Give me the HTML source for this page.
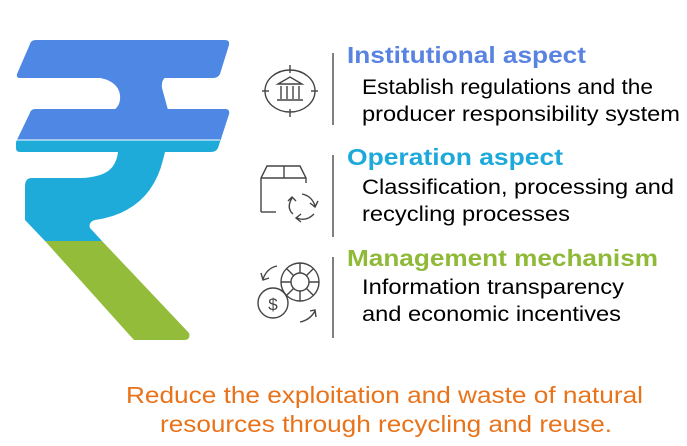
<!DOCTYPE html>
<html><head><meta charset="utf-8"><style>
html,body{margin:0;padding:0;background:#fff;}
svg{display:block;}
text{font-family:"Liberation Sans",sans-serif;}
</style></head><body>
<svg width="687" height="446" viewBox="0 0 687 446" xmlns="http://www.w3.org/2000/svg">
<defs><clipPath id="top"><rect x="0" y="0" width="300" height="140"/></clipPath></defs>
<path d="M45,241 H102 L189,333 Q191,340 184,340 H134 Z" fill="#93bc3a"/>
<path d="M118,152 Q116,170 100,175 Q90,178 80,178 H32 Q25,178 25,186 V220 L45,241 H102 L90,228 Q88,222 95,220 Q150,212 163,160 L165,152 Z" fill="#1fabd9"/>
<path d="M36,40 H225 Q230,40 229,45 L220,74 Q218,78 213,78 H20 Q16,78 17,74 L30,44 Q31,40 36,40 Z" fill="#4e88e4"/>
<path d="M95,77 Q118,80 120,95 Q121,105 114,110 H168 L162,88 Q161,80 166,77 Z" fill="#4e88e4"/>
<path d="M36,109 H225 Q230,109 229,114 L218,148 Q216,152 211,152 H20 Q16,152 16,148 V142 L30,113 Q31,109 36,109 Z" fill="#1fabd9"/>
<path clip-path="url(#top)" d="M36,109 H225 Q230,109 229,114 L218,148 Q216,152 211,152 H20 Q16,152 16,148 V142 L30,113 Q31,109 36,109 Z" fill="#4e88e4"/>
<line x1="17" y1="140" x2="220" y2="140" stroke="#fff" stroke-width="1"/>
<g stroke="#555" stroke-width="1.5">
<line x1="333" y1="53" x2="333" y2="125"/>
<line x1="333" y1="155" x2="333" y2="237"/>
<line x1="333" y1="257" x2="333" y2="338"/>
</g>
<g fill="none" stroke="#444" stroke-width="1.4">
<ellipse cx="290" cy="91" rx="25" ry="21"/>
<line x1="290" y1="65" x2="290" y2="73"/><line x1="290" y1="109" x2="290" y2="117"/>
<line x1="262" y1="91" x2="269" y2="91"/><line x1="311" y1="91" x2="318" y2="91"/>
<path d="M278,84 L290,77 L302,84 Z"/><line x1="277" y1="100" x2="303" y2="100"/>
<line x1="281" y1="86" x2="281" y2="99"/><line x1="287" y1="86" x2="287" y2="99"/><line x1="293" y1="86" x2="293" y2="99"/><line x1="299" y1="86" x2="299" y2="99"/>
<path d="M261,212 V178 L267,166 H300 L306,178 V183"/><line x1="261" y1="178" x2="306" y2="178"/><line x1="284" y1="166" x2="284" y2="178"/>
<path d="M261,212 H276"/>
<path d="M302,194 Q312,196 315,206 M310,203 L315,207 L318,201"/>
<path d="M293,214 Q286,208 292,198 M288,201 L292,197 L296,201"/>
<path d="M314,214 Q306,222 297,218 M301,214 L296,218 L301,222"/>
<circle cx="273" cy="303" r="15"/>
<text x="273" y="310" font-size="17" fill="#444" stroke="none" text-anchor="middle">$</text>
<circle cx="300" cy="282" r="19"/><circle cx="300" cy="282" r="9"/>
<path d="M300,263 V273 M300,291 V301 M281,282 H291 M309,282 H319 M287,269 L294,276 M306,288 L313,295 M313,269 L306,276 M294,288 L287,295"/>
<path d="M277,266 Q267,268 263,279 M261,273 L263,280 L269,278"/>
<path d="M300,322 Q310,320 315,311 M310,311 L315,310 L316,317"/>
</g>
<text x="347" y="63" font-size="23" font-weight="bold" fill="#5883e0" textLength="239" lengthAdjust="spacingAndGlyphs">Institutional aspect</text>
<text x="362" y="94" font-size="21" fill="#000" textLength="291" lengthAdjust="spacingAndGlyphs">Establish regulations and the</text>
<text x="362" y="121" font-size="21" fill="#000" textLength="318" lengthAdjust="spacingAndGlyphs">producer responsibility system</text>
<text x="347" y="165" font-size="23" font-weight="bold" fill="#1da9d9" textLength="216" lengthAdjust="spacingAndGlyphs">Operation aspect</text>
<text x="362" y="194" font-size="21" fill="#000" textLength="312" lengthAdjust="spacingAndGlyphs">Classification, processing and</text>
<text x="362" y="221" font-size="21" fill="#000" textLength="208" lengthAdjust="spacingAndGlyphs">recycling processes</text>
<text x="347" y="266" font-size="23" font-weight="bold" fill="#8fba38" textLength="311" lengthAdjust="spacingAndGlyphs">Management mechanism</text>
<text x="362" y="294" font-size="21" fill="#000" textLength="262" lengthAdjust="spacingAndGlyphs">Information transparency</text>
<text x="362" y="321" font-size="21" fill="#000" textLength="259" lengthAdjust="spacingAndGlyphs">and economic incentives</text>
<text x="126" y="403" font-size="23" fill="#e8731a" textLength="517" lengthAdjust="spacingAndGlyphs">Reduce the exploitation and waste of natural</text>
<text x="160" y="432" font-size="23" fill="#e8731a" textLength="452" lengthAdjust="spacingAndGlyphs">resources through recycling and reuse.</text>
</svg>
</body></html>
